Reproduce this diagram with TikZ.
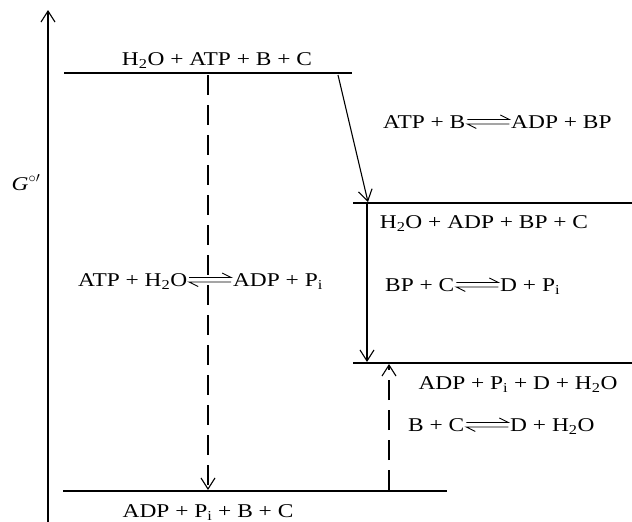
\documentclass[tikz,border=0pt]{standalone}
\usepackage{fontspec}
\setmainfont{Liberation Serif}[FakeStretch=1.2]
\usetikzlibrary{arrows.meta}
\newcommand{\eqh}{\kern1.5pt\tikz[x=1pt,y=1pt,line width=0.9pt,baseline=0pt]{\draw (0,8.5) -- (42,8.5) -- (33,13); \draw (42,4) -- (0,4) -- (9,-0.5);}\kern1.5pt}
\newcommand{\sub}[1]{\textsubscript{#1}}
\begin{document}
\begin{tikzpicture}[x=1pt,y=-1pt,
  level/.style={line width=2.6pt},
  arr/.style={line width=1.1pt,-{Straight Barb[length=11pt,width=14pt,line width=1.1pt]}},
  darr/.style={arr,dash pattern=on 20pt off 10pt},
  lbl/.style={inner sep=0pt,anchor=base,font=\fontsize{19.5}{23}\selectfont},
  lblw/.style={lbl,anchor=base west}]
\useasboundingbox (0,0) rectangle (632,522);
% axis
\coordinate (a0) at (48,522);
\coordinate (a1) at (48,10);
\draw[arr] (a0) -- (a1);
\node[lbl] (G) at (26,190) {\textit{G}$^{\circ\prime}$};
% levels
\coordinate (l1a) at (64,73);  \coordinate (l1b) at (352,73);
\coordinate (l2a) at (353,203); \coordinate (l2b) at (632,203);
\coordinate (l3a) at (353,363); \coordinate (l3b) at (632,363);
\coordinate (l4a) at (63,491); \coordinate (l4b) at (447,491);
\draw[level] (l1a) -- (l1b);
\draw[level] (l2a) -- (l2b);
\draw[level] (l3a) -- (l3b);
\draw[level] (l4a) -- (l4b);
% arrows
\coordinate (d1s) at (208,75); \coordinate (d1e) at (208,490);
\draw[darr] (d1s) -- (d1e);
\coordinate (s1s) at (338,75); \coordinate (s1e) at (368,202);
\draw[arr] (s1s) -- (s1e);
\coordinate (s2s) at (367,204); \coordinate (s2e) at (367,362);
\draw[arr] (s2s) -- (s2e);
\coordinate (d2s) at (389,490); \coordinate (d2e) at (389,364);
\draw[darr] (d2s) -- (d2e);
% level labels
\node[lbl] (t1) at (217,65) {H\sub{2}O + ATP + B + C};
\node[lbl] (t2) at (484,228) {H\sub{2}O + ADP + BP + C};
\node[lbl] (t3) at (518,389) {ADP + P\sub{i} + D + H\sub{2}O};
\node[lbl] (t4) at (208,517) {ADP + P\sub{i} + B + C};
% reactions
\node[lblw] (r1) at (383,128) {ATP + B\eqh ADP + BP};
\node[lblw] (r2) at (78,286) {ATP + H\sub{2}O\eqh ADP + P\sub{i}};
\node[lblw] (r3) at (385,291) {BP + C\eqh D + P\sub{i}};
\node[lblw] (r4) at (408,431) {B + C\eqh D + H\sub{2}O};
\end{tikzpicture}
\end{document}
